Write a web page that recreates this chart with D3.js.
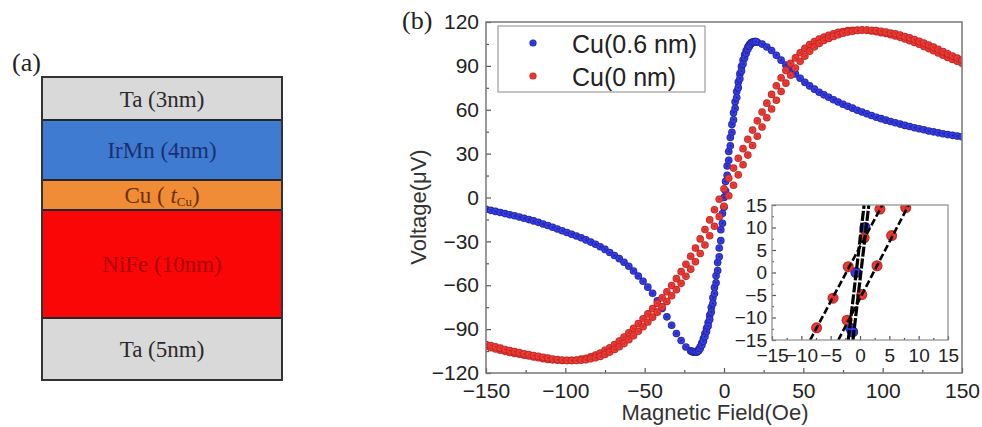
<!DOCTYPE html>
<html>
<head>
<meta charset="utf-8">
<script src="https://cdn.jsdelivr.net/npm/d3@7"></script>
<style>
  body { margin: 0; background: #fff; }
  svg { display: block; }
</style>
</head>
<body>
<svg id="fig" width="982" height="427"></svg>
<script>
// ---------------- data ----------------
// (a) layer stack, top to bottom
const layerNames = ["Ta (3nm)", "IrMn (4nm)", "Cu (tCu)", "NiFe (10nm)", "Ta (5nm)"];

// (b) tick values
const xTicks = [-150, -100, -50, 0, 50, 100, 150];
const xMinorTicks = [-125, -75, -25, 25, 75, 125];
const yTicks = [-120, -90, -60, -30, 0, 30, 60, 90, 120];
const yMinorTicks = [-105, -75, -45, -15, 15, 45, 75, 105];
const insetTicks = [-15, -10, -5, 0, 5, 10, 15];
const insetMinorTicks = [-12.5, -7.5, -2.5, 2.5, 7.5, 12.5];

// Cu(0 nm): field sweep (Oe) and voltage (uV) of the two sweep branches
const redField = [-150,-147,-144,-141,-138,-135,-132,-129,-126,-123,-120,-117,-114,-111,-108,-105,-102,-99,-96,-93,
  -90,-87,-84,-81,-78,-75,-72,-69,-66,-63,-60,-57,-54,-51,-48,-45,-42,-39,-36,-33,
  -30,-27,-24,-21,-18,-15,-12,-9,-6,-3,0,3,6,9,12,15,18,21,24,27,
  30,33,36,39,42,45,48,51,54,57,60,63,66,69,72,75,78,81,84,87,
  90,93,96,99,102,105,108,111,114,117,120,123,126,129,132,135,138,141,144,147,150];
const redSweepA = [-101.8,-102.7,-103.6,-104.4,-105.2,-105.9,-106.6,-107.2,-107.8,-108.4,
  -109,-109.6,-110.2,-110.7,-111,-111.3,-111.5,-111.5,-111.4,-111.1,
  -110.5,-109.9,-109,-107.8,-106.3,-104.5,-102.7,-100.6,-98.2,-95.5,
  -92.5,-89.5,-86.2,-82.9,-79.6,-76,-72.4,-68.5,-64.4,-60.2,
  -55.5,-50.7,-45.6,-40.2,-34.5,-28.3,-21.9,-15.3,-8.4,-1.2,
  6,13.2,20.1,26.8,33.4,39.8,46.1,52.4,58.5,64.5,
  70.5,76.4,81.8,86.9,91.7,95.5,99,102,104.6,106.7,
  108.3,109.7,110.9,112,112.9,113.5,114.1,114.4,114.5,114.5,
  114.3,113.9,113.3,112.7,112.1,111.3,110.4,109.5,108.4,107.2,
  106,104.8,103.3,101.8,100.3,98.8,97.3,95.8,94.4,93.2,91.8];
const redSweepB = [-100.5,-101.2,-102.1,-103,-103.9,-104.7,-105.4,-106.1,-106.8,-107.4,
  -108,-108.6,-109.2,-109.8,-110.4,-110.8,-111.1,-111.4,-111.5,-111.5,
  -111.3,-110.9,-110.3,-109.6,-108.7,-107.3,-105.7,-103.9,-102,-99.9,
  -97.3,-94.5,-91.5,-88.4,-85.1,-81.8,-78.4,-74.8,-71.1,-67.2,
  -63,-58.7,-53.9,-49,-43.9,-38.3,-32.5,-26.2,-19.7,-13.1,
  -6,1.2,8.4,15.5,22.4,29,35.6,41.9,48.2,54.5,
  60.5,66.5,72.5,78.2,83.6,88.5,93.1,96.7,100,103,
  105.3,107.3,108.8,110.1,111.3,112.3,113.1,113.7,114.2,114.5,
  114.5,114.4,114.2,113.7,113.1,112.5,111.9,111,110,109.2,
  108,106.8,105.6,104.3,102.8,101.3,99.8,98.3,96.8,95.3,94];

// Cu(0.6 nm): field sweep (Oe) and voltage (uV); finer steps through the switching region
const blueField = [-150,-147,-144,-141,-138,-135,-132,-129,-126,-123,-120,-117,-114,-111,-108,-105,-102,-99,-96,-93,
  -90,-87,-84,-81,-78,-75,-72,-69,-66,-63,-60,-57,-54,-51,-48,-45,-42,-39,-36,-33,-30,-27,-24,-21,
  -20,-19,-18,-17,-16,-15,-14,-13,-12,-11,-10,-9,-8,-7,-6,-5,-4,-3,-2,-1,
  0,1,2,3,4,5,6,7,8,9,10,11,12,13,14,15,16,17,18,19,20,
  21,24,27,30,33,36,39,42,45,48,51,54,57,60,63,66,69,72,75,78,
  81,84,87,90,93,96,99,102,105,108,111,114,117,120,123,126,129,132,135,138,141,144,147,150];
const blueVolt = [-8,-8.8,-9.5,-10.3,-11,-11.8,-12.5,-13.3,-14.2,-15.1,
  -16,-17,-18.1,-19.1,-20.3,-21.5,-22.7,-23.9,-25.1,-26.3,
  -27.5,-29,-30.5,-32,-33.7,-35.5,-37.6,-39.7,-41.8,-44.3,
  -47,-50.3,-53.7,-57.3,-61.3,-65.5,-70.6,-75.9,-81.6,-87.3,
  -93,-97.8,-102.2,-104.9,
  -105.5,-105.8,-105.8,-105.3,-104,-102,-99.5,-96.5,-93,-89.5,
  -85.5,-80.5,-75,-68.5,-61.5,-53.5,-44.5,-34.5,-22,-11,
  0,11,21.5,31.5,41,50,58,65.5,72.5,79,
  84.5,89.5,94,97.5,100.5,102.8,104.5,105.7,106.3,106.6,106.6,
  106.2,104.9,102.9,100.5,97.2,93.9,90.6,87.5,84.5,81.5,
  78.7,76.3,74.1,72,70.2,68.5,66.8,65.3,63.8,62.4,
  61.1,59.7,58.5,57.3,56.1,54.9,53.9,52.9,52,51.1,
  50.2,49.3,48.5,47.7,47,46.3,45.5,44.9,44.2,43.6,
  43,42.5,42,41.5];
// return sweep of Cu(0.6 nm) through the switching region
const blueReturnField = [-20,-19,-18,-17,-16,-15,-14,-13,-12,-11,-10,-9,-8,-7,-6,-5,-4,-3,-2,-1,
  0,1,2,3,4,5,6,7,8,9,10,11,12,13,14,15,16,17,18,19,20];
const blueReturnVolt = [-105.1,-105.6,-105.8,-105.6,-104.8,-103.2,-101,-98.3,-95.1,-91.6,
  -87.9,-83.5,-78.3,-72.4,-65.7,-58.3,-49.9,-40.5,-29.5,-17.6,
  -6.6,4.4,15.2,25.5,35.3,44.6,53.2,61,68.3,75.1,
  81.2,86.5,91.3,95.4,98.7,101.4,103.5,105,105.9,106.4,106.6];

// inset: zoom on the zero crossing
const insetRedAField = [-7.4, -4.6, -2.0, 0.7, 3.4];
const insetRedAVolt  = [-12.3, -5.7, 1.3, 7.7, 14.1];
const insetRedBField = [-2.2, 0.3, 2.9, 5.4, 7.8];
const insetRedBVolt  = [-10.6, -4.9, 1.5, 8.2, 14.4];
const insetBlueField = [-1.6, -1.25, -0.7, 0.85];
const insetBlueVolt  = [-12.4, -13.2, 0.0, 10.0];
// linear fits (field at -15 uV, field at +15 uV)
const fitRedA  = [-8.5, 3.8];
const fitRedB  = [-3.7, 8.3];
const fitBlueA = [-2.0, 0.7];
const fitBlueB = [-1.2, 1.5];

const seriesNames = ["Cu(0.6 nm)", "Cu(0 nm)"];

// ---------------- drawing ----------------
const svg = d3.select("#fig");
const sans = "'Liberation Sans', Arial, Helvetica, sans-serif";
const serif = "'Liberation Serif', 'Times New Roman', serif";
const ink = "#222";

const defs = svg.append("defs");
function ball(id, c0, c1, c2) {
  const g = defs.append("radialGradient").attr("id", id)
    .attr("cx", "50%").attr("cy", "50%").attr("r", "50%");
  g.append("stop").attr("offset", "0%").attr("stop-color", c0);
  g.append("stop").attr("offset", "55%").attr("stop-color", c1);
  g.append("stop").attr("offset", "100%").attr("stop-color", c2);
}
ball("ballRed", "#c42a28", "#f53d36", "#b82220");
ball("ballBlue", "#1c20a4", "#3b42f0", "#1d2199");

// ===== panel (a): layer stack =====
const stackLeft = 42, stackRight = 282, stackTop = 77;
const layerSpans = [43, 60, 30, 108, 62];
const layerFill = ["#d9d9d9", "#3f7bd1", "#f08c36", "#fb0606", "#d9d9d9"];
const layerInk = ["#2a2a2a", "#1c2f6e", "#6b3000", "#a80000", "#2a2a2a"];
const tops = [];
layerSpans.reduce((acc, h) => { tops.push(acc); return acc + h; }, stackTop);
const stackBottom = tops[tops.length - 1] + layerSpans[layerSpans.length - 1];

const pa = svg.append("g");
pa.selectAll("rect.layer").data(layerNames).join("rect")
  .attr("class", "layer")
  .attr("x", stackLeft).attr("y", (d, i) => tops[i])
  .attr("width", stackRight - stackLeft).attr("height", (d, i) => layerSpans[i])
  .attr("fill", (d, i) => layerFill[i]);
pa.selectAll("line.sep").data(tops.slice(1)).join("line")
  .attr("class", "sep")
  .attr("x1", stackLeft).attr("x2", stackRight)
  .attr("y1", d => d).attr("y2", d => d)
  .attr("stroke", "#262626").attr("stroke-width", 2);
pa.append("rect")
  .attr("x", stackLeft).attr("y", stackTop)
  .attr("width", stackRight - stackLeft).attr("height", stackBottom - stackTop)
  .attr("fill", "none").attr("stroke", "#333").attr("stroke-width", 2);

const cx = (stackLeft + stackRight) / 2;
layerNames.forEach((name, i) => {
  const t = pa.append("text")
    .attr("x", cx).attr("y", tops[i] + layerSpans[i] / 2 + 8)
    .attr("text-anchor", "middle")
    .attr("font-family", serif).attr("font-size", 23)
    .attr("fill", layerInk[i]);
  if (name === "Cu (tCu)") {
    t.append("tspan").text("Cu ( ");
    t.append("tspan").attr("font-style", "italic").text("t");
    t.append("tspan").attr("font-size", 13).attr("dy", 3).text("Cu");
    t.append("tspan").attr("dy", -3).text(")");
  } else {
    t.text(name);
  }
});
svg.append("text").attr("x", 12).attr("y", 71)
  .attr("font-family", serif).attr("font-size", 26).attr("fill", ink).text("(a)");

// ===== panel (b): main chart =====
const x = d3.scaleLinear().domain([-150, 150]).range([486, 962]);
const y = d3.scaleLinear().domain([-120, 120]).range([373, 22]);

svg.append("text").attr("x", 402).attr("y", 29)
  .attr("font-family", serif).attr("font-size", 26).attr("fill", ink).text("(b)");

defs.append("clipPath").attr("id", "plotClip").append("rect")
  .attr("x", x(-150)).attr("y", y(120))
  .attr("width", x(150) - x(-150)).attr("height", y(-120) - y(120));

function styleAxis(g, size) {
  g.select(".domain").remove();
  g.selectAll(".tick line").attr("stroke", "#555").attr("stroke-width", 1.2);
  g.selectAll(".tick text").attr("fill", ink)
    .attr("font-family", sans).attr("font-size", size);
}

// ticks pointing into the frame
const gx = svg.append("g").attr("transform", `translate(0,${y(-120)})`)
  .call(d3.axisBottom(x).tickValues(xTicks).tickSize(-5).tickSizeOuter(0).tickPadding(10));
styleAxis(gx, 21);
const gxm = svg.append("g").attr("transform", `translate(0,${y(-120)})`)
  .call(d3.axisBottom(x).tickValues(xMinorTicks).tickSize(-3).tickSizeOuter(0).tickFormat(""));
styleAxis(gxm, 21);
const gy = svg.append("g").attr("transform", `translate(${x(-150)},0)`)
  .call(d3.axisLeft(y).tickValues(yTicks).tickSize(-5).tickSizeOuter(0).tickPadding(7));
styleAxis(gy, 21);
const gym = svg.append("g").attr("transform", `translate(${x(-150)},0)`)
  .call(d3.axisLeft(y).tickValues(yMinorTicks).tickSize(-3).tickSizeOuter(0).tickFormat(""));
styleAxis(gym, 21);

// data
const plot = svg.append("g").attr("clip-path", "url(#plotClip)");
const zip = (f, v) => f.map((d, i) => [d, v[i]]);
const bluePts = zip(blueField, blueVolt).concat(zip(blueReturnField, blueReturnVolt));
const redPts = zip(redField, redSweepA).concat(zip(redField, redSweepB));

plot.selectAll("circle.blue").data(bluePts).join("circle")
  .attr("class", "blue")
  .attr("cx", d => x(d[0])).attr("cy", d => y(d[1])).attr("r", 3.8)
  .attr("fill", "url(#ballBlue)");
plot.selectAll("circle.red").data(redPts).join("circle")
  .attr("class", "red")
  .attr("cx", d => x(d[0])).attr("cy", d => y(d[1])).attr("r", 3.8)
  .attr("fill", "url(#ballRed)");

// frame
svg.append("rect")
  .attr("x", x(-150)).attr("y", y(120))
  .attr("width", x(150) - x(-150)).attr("height", y(-120) - y(120))
  .attr("fill", "none").attr("stroke", "#777").attr("stroke-width", 1.5);

// axis titles
svg.append("text").attr("x", 715).attr("y", 420)
  .attr("text-anchor", "middle").attr("font-family", sans).attr("font-size", 22)
  .attr("fill", "#333").text("Magnetic Field(Oe)");
svg.append("text").attr("transform", "translate(426,207) rotate(-90)")
  .attr("text-anchor", "middle").attr("font-family", sans).attr("font-size", 22)
  .attr("fill", "#333").text("Voltage(\u03bcV)");

// legend
const lg = svg.append("g");
lg.append("rect").attr("x", 498).attr("y", 26).attr("width", 207).attr("height", 66)
  .attr("fill", "#fff").attr("stroke", "#8a8a8a").attr("stroke-width", 1);
const legendFill = ["url(#ballBlue)", "url(#ballRed)"];
seriesNames.forEach((name, i) => {
  const yy = 43 + i * 33;
  lg.append("circle").attr("cx", 533).attr("cy", yy).attr("r", 3.6).attr("fill", legendFill[i]);
  lg.append("text").attr("x", 572).attr("y", yy + 10)
    .attr("font-family", sans).attr("font-size", 25).attr("fill", ink).text(name);
});

// ===== inset =====
const xi = d3.scaleLinear().domain([-15, 15]).range([772, 948]);
const yi = d3.scaleLinear().domain([-15, 15]).range([340, 205]);
svg.append("rect")
  .attr("x", xi(-15)).attr("y", yi(15))
  .attr("width", xi(15) - xi(-15)).attr("height", yi(-15) - yi(15))
  .attr("fill", "#fff");
defs.append("clipPath").attr("id", "insetClip").append("rect")
  .attr("x", xi(-15)).attr("y", yi(15))
  .attr("width", xi(15) - xi(-15)).attr("height", yi(-15) - yi(15));

const gxi = svg.append("g").attr("transform", `translate(0,${yi(-15)})`)
  .call(d3.axisBottom(xi).tickValues(insetTicks).tickSize(-4).tickSizeOuter(0).tickPadding(9));
styleAxis(gxi, 19);
const gxim = svg.append("g").attr("transform", `translate(0,${yi(-15)})`)
  .call(d3.axisBottom(xi).tickValues(insetMinorTicks).tickSize(-2).tickSizeOuter(0).tickFormat(""));
styleAxis(gxim, 19);
const gyi = svg.append("g").attr("transform", `translate(${xi(-15)},0)`)
  .call(d3.axisLeft(yi).tickValues(insetTicks).tickSize(-4).tickSizeOuter(0).tickPadding(5));
styleAxis(gyi, 19);
const gyim = svg.append("g").attr("transform", `translate(${xi(-15)},0)`)
  .call(d3.axisLeft(yi).tickValues(insetMinorTicks).tickSize(-2).tickSizeOuter(0).tickFormat(""));
styleAxis(gyim, 19);

const ins = svg.append("g").attr("clip-path", "url(#insetClip)");
ins.selectAll("circle.ib").data(zip(insetBlueField, insetBlueVolt)).join("circle")
  .attr("class", "ib")
  .attr("cx", d => xi(d[0])).attr("cy", d => yi(d[1])).attr("r", 5.5)
  .attr("fill", "url(#ballBlue)");
ins.selectAll("circle.ir").data(zip(insetRedAField, insetRedAVolt).concat(zip(insetRedBField, insetRedBVolt)))
  .join("circle").attr("class", "ir")
  .attr("cx", d => xi(d[0])).attr("cy", d => yi(d[1])).attr("r", 5.5)
  .attr("fill", "url(#ballRed)");

const fits = [fitRedA, fitRedB, fitBlueA, fitBlueB];
const fitWidth = [2.6, 2.6, 3.2, 3.2];
const fitDash = ["7,3", "7,3", "10,2", "10,2"];
ins.selectAll("line.fit").data(fits).join("line")
  .attr("class", "fit")
  .attr("x1", d => xi(d[0])).attr("y1", yi(-15))
  .attr("x2", d => xi(d[1])).attr("y2", yi(15))
  .attr("stroke", "#000")
  .attr("stroke-width", (d, i) => fitWidth[i])
  .attr("stroke-dasharray", (d, i) => fitDash[i]);

svg.append("rect")
  .attr("x", xi(-15)).attr("y", yi(15))
  .attr("width", xi(15) - xi(-15)).attr("height", yi(-15) - yi(15))
  .attr("fill", "none").attr("stroke", "#8a8a8a").attr("stroke-width", 1.2);
</script>
</body>
</html>
